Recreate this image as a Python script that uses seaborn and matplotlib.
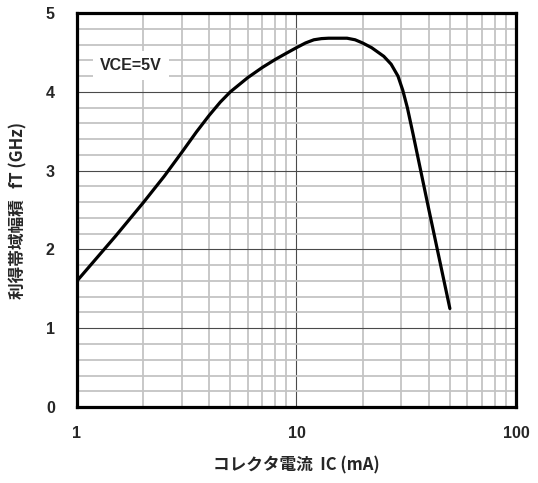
import matplotlib
matplotlib.use("Agg")
import matplotlib.pyplot as plt
import numpy as np
import pandas as pd
import seaborn as sns
from matplotlib.ticker import FixedLocator, NullFormatter

# collector current (mA) and transition frequency (GHz)
ic_ma = [1, 1.5, 2, 2.5, 3, 3.5, 4, 4.5, 5, 6, 7, 8, 9, 10, 11, 12, 13, 14, 17, 18.5, 20, 22,
         25, 27, 29, 30.5, 32, 34, 40, 50]
ft_ghz = [1.6, 2.17, 2.59, 2.93, 3.23, 3.49, 3.7, 3.87, 4.0, 4.18, 4.31, 4.41, 4.49, 4.56, 4.62,
          4.66, 4.675, 4.68, 4.68, 4.66, 4.62, 4.56, 4.45, 4.35, 4.2, 4.02, 3.8, 3.46, 2.52, 1.25]

x_ticks = [1, 10, 100]
x_tick_labels = ["1", "10", "100"]
y_ticks = [0, 1, 2, 3, 4, 5]

df = pd.DataFrame({"ic": ic_ma, "ft": ft_ghz})

sns.set_style("white")
plt.rcParams["font.family"] = ["Noto Sans CJK JP", "DejaVu Sans"]

fig = plt.figure(figsize=(5.38, 4.83), dpi=100)
ax = fig.add_axes([0.1431, 0.1573, 0.8159, 0.8158])

sns.lineplot(data=df, x="ic", y="ft", ax=ax, color="black", linewidth=2.3, zorder=5)

ax.set_xscale("log")
ax.set_xlim(1, 100)
ax.set_ylim(0, 5)

# grid: light minor lines, darker thin major lines
minor_x = [m * d for d in (1, 10) for m in range(2, 10)]
ax.xaxis.set_major_locator(FixedLocator(x_ticks))
ax.xaxis.set_minor_locator(FixedLocator(minor_x))
ax.xaxis.set_minor_formatter(NullFormatter())
ax.set_xticks(x_ticks, x_tick_labels)
ax.yaxis.set_major_locator(FixedLocator(y_ticks))
ax.yaxis.set_minor_locator(FixedLocator(list(np.arange(0.2, 5, 0.2))))
ax.grid(which="minor", color="#c4c4c4", linewidth=1.3, zorder=0)
ax.grid(which="major", color="#4a4a4a", linewidth=0.8, zorder=1)
ax.set_axisbelow(True)

ax.tick_params(which="both", length=0)
ax.tick_params(axis="x", pad=14)
ax.tick_params(axis="y", pad=16)
for lab in ax.get_xticklabels() + ax.get_yticklabels():
    lab.set_fontfamily(["Liberation Sans", "DejaVu Sans"])
    lab.set_fontweight("bold")
    lab.set_fontsize(11.5)

for sp in ax.spines.values():
    sp.set_visible(True)
    sp.set_color("black")
    sp.set_linewidth(2.3)
    sp.set_zorder(6)

ax.set_xlabel("コレクタ電流  IC (mA)", fontsize=12, fontweight="bold", labelpad=11)
ax.set_ylabel("利得帯域幅積   fT (GHz)", fontsize=12, fontweight="bold", labelpad=13)

ax.text(1.76, 4.33, "VCE=5V", ha="center", va="center", fontsize=11.5, fontweight="bold",
        family=["Liberation Sans", "DejaVu Sans"], zorder=4,
        bbox=dict(facecolor="white", edgecolor="none", pad=5))

plt.savefig("out.png", dpi=100)
plt.close()
